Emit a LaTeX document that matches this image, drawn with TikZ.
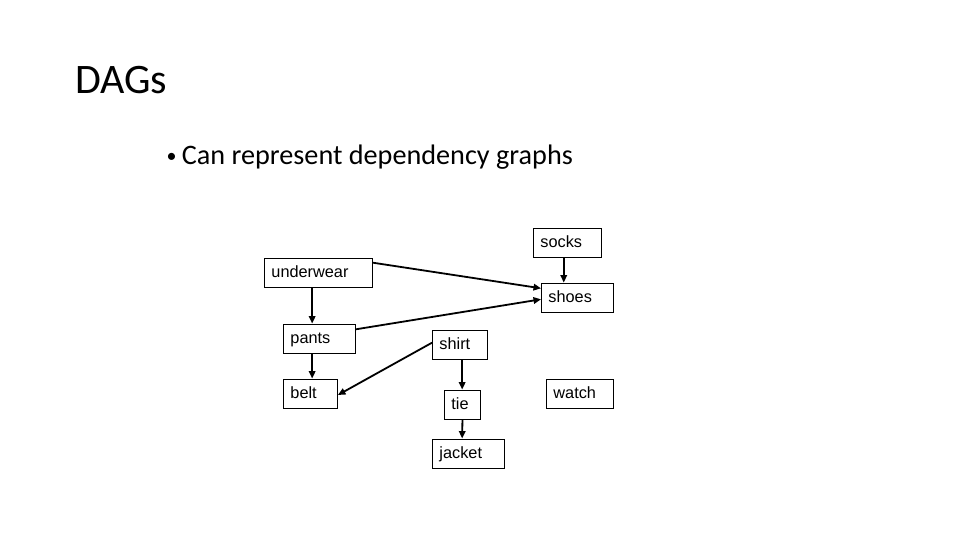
\documentclass[tikz,border=0pt]{standalone}
\usepackage{fontspec}
\setmainfont{Carlito}
\newfontfamily\boxfont{Liberation Sans}
\usetikzlibrary{arrows.meta}
\begin{document}
\begin{tikzpicture}[x=1pt,y=-1pt,
  box/.style={draw=black,line width=0.9pt,anchor=west,inner xsep=7pt,inner ysep=0pt,
    minimum height=29pt,align=left,font=\boxfont\fontsize{16.3}{18}\selectfont,
    text height=12.3pt,text depth=2.7pt},
  arr/.style={line width=1.8pt,-{Triangle[length=7.5pt,width=6.5pt]}},
  txt/.style={anchor=base west,inner sep=0pt}]
\useasboundingbox (0,0) rectangle (960,540);
\node[txt,font=\fontsize{42}{46}\selectfont] (title) at (75,93.3) {DAGs};
\node[txt,font=\fontsize{20}{24}\selectfont] (bul) at (166.5,163) {•};
\node[txt,font=\fontsize{28.2}{32}\selectfont] (line) at (181.7,164.3) {Can represent dependency graphs};
\node[box,text width=54pt] (socks) at (533,242.5) {socks};
\node[box,text width=94pt] (underwear) at (264,272.5) {underwear};
\node[box,text width=58pt] (shoes) at (541,297.5) {shoes};
\node[box,text width=58pt] (pants) at (283,338.5) {pants};
\node[box,text width=41pt] (shirt) at (432,344.5) {shirt};
\node[box,text width=40pt] (belt) at (283,393.5) {belt};
\node[box,text width=22pt] (tie) at (444,404.5) {tie};
\node[box,text width=53pt] (watch) at (546,393.5) {watch};
\node[box,text width=58pt] (jacket) at (432,453.5) {jacket};
\draw[arr] ([yshift=9.8pt]underwear.east) -- ([yshift=9.2pt]shoes.west);
\draw[arr] ([yshift=9.2pt]pants.east) -- ([yshift=-1.8pt]shoes.west);
\draw[arr] ([xshift=-6.3pt]underwear.south) -- ([xshift=-7.3pt]pants.north);
\draw[arr] ([xshift=-3.7pt]socks.south) -- ([xshift=-13.7pt]shoes.north);
\draw[arr] ([xshift=-7.3pt]pants.south) -- ([xshift=1.7pt]belt.north);
\draw[arr] ([yshift=1.8pt]shirt.west) -- ([yshift=-1.5pt]belt.east);
\draw[arr] ([xshift=2.2pt]shirt.south) -- ([xshift=-0.3pt]tie.north);
\draw[arr] (tie.south) -- ([xshift=-6.3pt]jacket.north);
\end{tikzpicture}
\end{document}
